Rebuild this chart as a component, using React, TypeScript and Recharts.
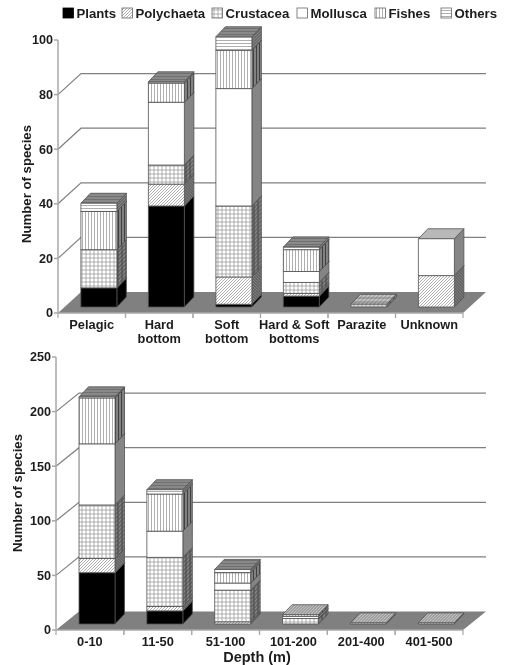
import React from 'react';
import { BarChart, Bar, XAxis, YAxis, CartesianGrid, Legend } from 'recharts';

const seriesNames = ['Plants', 'Polychaeta', 'Crustacea', 'Mollusca', 'Fishes', 'Others'];

const habitatCategories = ['Pelagic', 'Hard\nbottom', 'Soft\nbottom', 'Hard & Soft\nbottoms', 'Parazite', 'Unknown'];
const habitatPlants = [7, 37, 1, 4, 0, 0];
const habitatPolychaeta = [0, 8, 10, 1, 0, 11.5];
const habitatCrustacea = [14, 7, 26, 4, 1, 0];
const habitatMollusca = [0, 23, 43, 4, 0, 13.5];
const habitatFishes = [14, 7, 14, 8, 0, 0];
const habitatOthers = [3, 0.5, 5, 1, 0, 0];
const habitatTicks = [0, 20, 40, 60, 80, 100];

const depthCategories = ['0-10', '11-50', '51-100', '101-200', '201-400', '401-500'];
const depthPlants = [47, 12, 0, 0, 0, 0];
const depthPolychaeta = [13, 4, 2, 0, 0, 0];
const depthCrustacea = [49, 45, 29, 5, 0, 0];
const depthMollusca = [56, 24, 6.5, 2, 0, 0];
const depthFishes = [42, 34, 9.5, 1.5, 1, 1];
const depthOthers = [1, 4, 3, 0, 0, 0];
const depthTicks = [0, 50, 100, 150, 200, 250];

const habitatValues = [habitatPlants, habitatPolychaeta, habitatCrustacea, habitatMollusca, habitatFishes, habitatOthers];
const depthValues = [depthPlants, depthPolychaeta, depthCrustacea, depthMollusca, depthFishes, depthOthers];

const toRows = (cats: string[], cols: number[][]) =>
  cats.map((c, i) => {
    const r: Record<string, any> = { category: c };
    seriesNames.forEach((s, k) => { r[s] = cols[k][i]; });
    return r;
  });

const FONT = '"Liberation Sans", Arial, sans-serif';
const TEXT = '#1c1c1c';
const AXIS = '#a8a8a8';
const LINE = '#808080';
const FLOOR = '#808080';
const EDGE = '#505050';

const topBase: Record<string, string> = {
  Plants: '#000000', Polychaeta: '#c0c0c0', Crustacea: '#c8c8c8', Mollusca: '#b8b8b8', Fishes: '#c0c0c0', Others: '#8a8a8a',
};

type Variant = { key: string; ink: string; tf?: string };
const variants: Variant[] = [
  { key: 'front', ink: '#9a9a9a' },
  { key: 'side', ink: '#404040', tf: 'skewY(-45)' },
  { key: 'top', ink: '#707070', tf: 'skewX(-45)' },
];
const patternSize: Record<string, number> = { Plants: 4, Polychaeta: 3, Crustacea: 4, Mollusca: 4, Fishes: 3, Others: 3 };

function PatternLines({ s, ink }: { s: string; ink: string }) {
  const n = patternSize[s];
  const w = 0.8;
  const m = n / 2;
  if (s === 'Polychaeta') return <path d={`M-1 1 L1 -1 M-1 ${n + 1} L${n + 1} -1 M${n - 1} ${n + 1} L${n + 1} ${n - 1}`} stroke={ink} strokeWidth={w} fill="none" />;
  if (s === 'Crustacea') return <path d={`M${m} 0 V${n} M0 ${m} H${n}`} stroke={ink} strokeWidth={w} fill="none" />;
  if (s === 'Fishes') return <path d={`M${m} 0 V${n}`} stroke={ink} strokeWidth={w} fill="none" />;
  if (s === 'Others') return <path d={`M0 ${m} H${n}`} stroke={ink} strokeWidth={w} fill="none" />;
  return null;
}

function Patterns() {
  return (
    <svg width={0} height={0} style={{ position: 'absolute' }}>
      <defs>
        {variants.flatMap((v) =>
          seriesNames.map((s) => {
            const n = patternSize[s];
            const base = s === 'Plants' ? '#000000' : v.key === 'front' ? '#ffffff' : v.key === 'side' ? '#858585' : topBase[s];
            return (
              <pattern key={v.key + s} id={`${v.key}-${s}`} width={n} height={n} patternUnits="userSpaceOnUse" patternTransform={v.tf}>
                <rect width={n} height={n} fill={base} />
                <PatternLines s={s} ink={v.ink} />
              </pattern>
            );
          })
        )}
      </defs>
    </svg>
  );
}

const makeShape = (name: string, barW: number, offX: number, offY: number, dx: number, dy: number) => (p: any) => {
  const { x, y, height } = p;
  if (!height || height <= 0) return <g />;
  const fx = x + offX + (p.width - barW) / 2;
  const fy = y - offY;
  const w = barW;
  const h = height;
  return (
    <g stroke={EDGE} strokeWidth={0.8} strokeLinejoin="round">
      <polygon points={`${fx + w},${fy} ${fx + w + dx},${fy - dy} ${fx + w + dx},${fy + h - dy} ${fx + w},${fy + h}`} fill={`url(#side-${name})`} />
      <polygon points={`${fx},${fy} ${fx + dx},${fy - dy} ${fx + w + dx},${fy - dy} ${fx + w},${fy}`} fill={`url(#top-${name})`} />
      <rect x={fx} y={fy} width={w} height={h} fill={`url(#front-${name})`} />
    </g>
  );
};

const gridLine = (wallX: number, wallY: number) => (p: any) => {
  const { x1, x2, y1, index } = p;
  const top = p.offset ? p.offset.top : null;
  const bottom = p.offset ? p.offset.top + p.offset.height : null;
  if (top !== null && Math.abs(y1 - top) < 0.5) return <g key={`l${index}`} />;
  if (bottom !== null && Math.abs(y1 - bottom) < 0.5) {
    return (
      <polygon key={`l${index}`} points={`${x1},${y1} ${x1 + wallX},${y1 - wallY} ${x2 + wallX},${y1 - wallY} ${x2},${y1}`} fill={FLOOR} stroke="none" />
    );
  }
  return (
    <polyline key={`l${index}`} points={`${x1},${y1} ${x1 + wallX},${y1 - wallY} ${x2 + wallX},${y1 - wallY}`} fill="none" stroke={LINE} strokeWidth={1.2} />
  );
};

const catTick = (band: number) => (p: any) => {
  const { x, y, payload } = p;
  const lines = String(payload.value).split('\n');
  const left = x - band / 2;
  const right = x + band / 2;
  return (
    <g>
      <line x1={left} x2={left} y1={y - 8} y2={y - 3} stroke={AXIS} strokeWidth={1.2} />
      <line x1={right} x2={right} y1={y - 8} y2={y - 3} stroke={AXIS} strokeWidth={1.2} />
      <text x={x} y={y + 8} textAnchor="middle" fontFamily={FONT} fontSize={12.8} fontWeight={700} fill={TEXT}>
        {lines.map((l, i) => (
          <tspan key={i} x={x} dy={i === 0 ? 0 : 13.5}>{l}</tspan>
        ))}
      </text>
    </g>
  );
};

const legendStarts = [63, 122, 212, 297, 375, 441];

function LegendRow() {
  return (
    <svg width={505} height={26} style={{ display: 'block' }}>
      {seriesNames.map((s, i) => (
        <g key={s}>
          <rect x={legendStarts[i]} y={8} width={10.5} height={10} fill={`url(#front-${s})`} stroke={s === 'Plants' ? '#000' : '#666'} strokeWidth={0.8} />
          <text x={legendStarts[i] + 13.5} y={17.5} fontFamily={FONT} fontSize={13.2} fontWeight={700} fill={TEXT}>{s}</text>
        </g>
      ))}
    </svg>
  );
}

type PanelProps = {
  rows: any[]; ticks: number[]; max: number; height: number; marginTop: number; axisW: number;
  xH: number; barW: number; dx: number; dy: number; wallX: number; wallY: number; offX: number; offY: number;
  yLabelX: number; yLabelY: number; xLabel?: string; withLegend?: boolean; band: number;
};

function Panel(o: PanelProps) {
  return (
    <BarChart
      width={505}
      height={o.height}
      data={o.rows}
      stackOffset="none"
      barCategoryGap="45%"
      margin={{ top: o.marginTop, right: 42, bottom: 0, left: 0 }}
    >
      <CartesianGrid vertical={false} horizontal={gridLine(o.wallX, o.wallY) as any} />
      <XAxis
        dataKey="category"
        interval={0}
        height={o.xH}
        stroke={AXIS}
        strokeWidth={1.5}
        tickLine={false}
        tick={catTick(o.band) as any}
        label={o.xLabel ? (() => (
          <text x={257} y={o.height - 3} textAnchor="middle" fontFamily={FONT} fontSize={14.5} fontWeight={700} fill={TEXT}>{o.xLabel}</text>
        )) as any : undefined}
      />
      <YAxis
        type="number"
        domain={[0, o.max]}
        ticks={o.ticks}
        interval={0}
        width={o.axisW}
        stroke={AXIS}
        strokeWidth={1.5}
        tickSize={4}
        tickMargin={1}
        tick={{ fontFamily: FONT, fontSize: 12.6, fontWeight: 700, fill: TEXT }}
        label={(() => (
          <text transform={`translate(${o.yLabelX},${o.yLabelY}) rotate(-90)`} textAnchor="middle" fontFamily={FONT} fontSize={13.2} fontWeight={700} fill={TEXT}>Number of species</text>
        )) as any}
      />
      {o.withLegend && (
        <Legend verticalAlign="top" align="left" content={() => <LegendRow />} wrapperStyle={{ position: 'absolute', top: 0, left: 0, width: 505, height: 26 }} />
      )}
      {seriesNames.map((s) => (
        <Bar
          key={s}
          dataKey={s}
          name={s}
          stackId="a"
          isAnimationActive={false}
          shape={makeShape(s, o.barW, o.offX, o.offY, o.dx, o.dy) as any}
        />
      ))}
    </BarChart>
  );
}

export default function App() {
  return (
    <div style={{ position: 'absolute', left: 0, top: 0, width: 505, height: 665, background: '#fff', filter: 'blur(0.45px)' }}>
      <Patterns />
      <div style={{ position: 'absolute', left: 0, top: 0 }}>
        <Panel
          rows={toRows(habitatCategories, habitatValues)}
          ticks={habitatTicks} max={100} height={345} marginTop={14} axisW={58} xH={32}
          barW={36} dx={9.5} dy={10} wallX={23} wallY={21} offX={7} offY={6}
          yLabelX={30.5} yLabelY={184} withLegend band={67.5}
        />
      </div>
      <div style={{ position: 'absolute', left: 0, top: 340 }}>
        <Panel
          rows={toRows(depthCategories, depthValues)}
          ticks={depthTicks} max={250} height={325} marginTop={17} axisW={56} xH={35}
          barW={36} dx={9.5} dy={10} wallX={23} wallY={18.5} offX={7} offY={6}
          yLabelX={22} yLabelY={153} xLabel="Depth (m)" band={67.8}
        />
      </div>
    </div>
  );
}
